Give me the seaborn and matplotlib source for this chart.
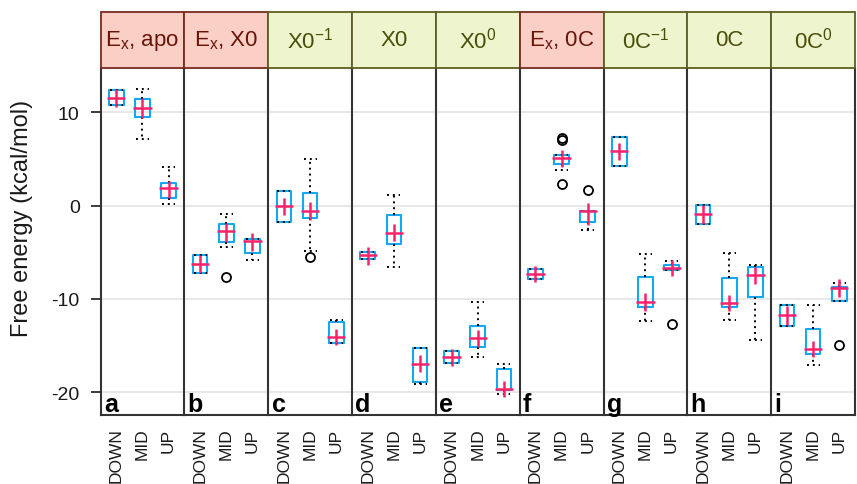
import numpy as np
import pandas as pd
import seaborn as sns
import matplotlib
matplotlib.use("Agg")
import matplotlib.pyplot as plt
from matplotlib.patches import Rectangle

# ---------------- data ----------------
panel_letters = ["a", "b", "c", "d", "e", "f", "g", "h", "i"]
strip_labels = [r"E$_{\mathrm{x}}$, apo", r"E$_{\mathrm{x}}$, X0", r"X0$^{-1}$", "X0",
                r"X0$^{0}$", r"E$_{\mathrm{x}}$, 0C", r"0C$^{-1}$", "0C", r"0C$^{0}$"]
strip_kind = ["E", "E", "S", "S", "S", "E", "S", "S", "S"]
categories = ["DOWN", "MID", "UP"]

# rows = panels a..i ; columns = DOWN, MID, UP
q1 = [[10.75, 9.50, 0.82], [-7.18, -3.93, -5.07], [-1.75, -1.32, -14.68],
      [-5.68, -4.10, -18.89], [-16.82, -15.18, -19.71], [-7.89, 4.46, -1.79],
      [4.21, -10.82, -6.93], [-1.93, -10.89, -9.79], [-12.86, -15.89, -10.25]]
median = [[11.57, 10.43, 1.89], [-6.21, -2.75, -3.82], [-0.07, -0.54, -14.04],
          [-5.32, -2.89, -16.93], [-16.18, -14.21, -19.60], [-7.32, 5.07, -0.61],
          [5.82, -10.32, -6.68], [-0.89, -10.46, -7.46], [-11.75, -15.32, -8.82]]
q3 = [[12.36, 11.46, 2.39], [-5.25, -2.00, -3.54], [1.54, 1.36, -12.46],
      [-4.96, -0.96, -15.25], [-15.60, -12.86, -17.46], [-6.75, 5.39, -0.54],
      [7.32, -7.68, -6.39], [0.11, -7.79, -6.61], [-10.64, -13.25, -8.68]]
whisker_lo = [[10.75, 7.18, 0.18], [-7.18, -4.43, -5.82], [-1.75, -4.82, -14.68],
              [-5.68, -6.57, -19.07], [-16.82, -16.25, -20.18], [-7.89, 3.86, -2.57],
              [4.21, -12.32, -6.93], [-1.93, -12.25, -14.36], [-12.86, -17.04, -10.25]]
whisker_hi = [[12.36, 12.54, 4.18], [-5.25, -0.86, -3.54], [1.54, 5.04, -12.30],
              [-4.96, 1.14, -15.25], [-15.60, -10.36, -16.93], [-6.75, 5.39, -0.54],
              [7.32, -5.18, -5.89], [0.11, -5.10, -6.36], [-10.64, -10.64, -8.29]]
cross_lo = [[10.60, 9.39, 0.82], [-7.21, -3.93, -4.82], [-0.96, -1.50, -14.96],
            [-6.32, -3.82, -17.82], [-17.14, -15.18, -20.50], [-8.21, 4.14, -2.04],
            [4.86, -11.25, -7.57], [-1.93, -11.32, -8.36], [-12.75, -16.25, -9.75]]
cross_hi = [[12.54, 11.50, 2.61], [-5.25, -1.86, -2.93], [0.82, 0.36, -13.20],
            [-4.43, -1.96, -15.96], [-15.36, -13.29, -18.75], [-6.50, 6.00, 0.29],
            [6.71, -9.39, -5.79], [0.11, -9.54, -6.54], [-10.79, -14.46, -7.86]]
# outliers: (panel index, category, value)
outlier_panel = [1, 2, 5, 5, 5, 5, 6, 8]
outlier_cat = ["MID", "MID", "MID", "MID", "MID", "UP", "UP", "UP"]
outlier_val = [-7.64, -5.46, 7.25, 7.04, 2.29, 1.71, -12.68, -14.89]

y_ticks = [-20, -10, 0, 10]

# ---------------- style ----------------
sns.set_style("white")
plt.rcParams["font.family"] = ["Liberation Sans", "DejaVu Sans"]
plt.rcParams["mathtext.fontset"] = "custom"
plt.rcParams["mathtext.rm"] = "Liberation Sans"
plt.rcParams["mathtext.it"] = "Liberation Sans:italic"
plt.rcParams["mathtext.bf"] = "Liberation Sans:bold"
plt.rcParams["axes.unicode_minus"] = False

BLUE = "#14A8F0"
PINK = "#F8236A"
STRIP_FILL = {"E": "#F9CFC6", "S": "#EEF4CD"}
STRIP_EDGE = {"E": "#7A2A1E", "S": "#5E5F22"}
STRIP_TEXT = {"E": "#6A1408", "S": "#4A4E0A"}

W, H = 857, 485
fig, axes = plt.subplots(1, 9, figsize=(W / 100, H / 100), dpi=100, sharey=True)
ax_top, ax_bot = 69, 416
fig.subplots_adjust(left=100.5 / W, right=855 / W, bottom=(H - ax_bot) / H,
                    top=(H - ax_top) / H, wspace=0)
strip_h = 56 / (ax_bot - ax_top)

dotted = (0, (1, 2))
for p, ax in enumerate(axes):
    rows = []
    for j, cat in enumerate(categories):
        vals = [whisker_lo[p][j], q1[p][j], q1[p][j], median[p][j],
                q3[p][j], q3[p][j], whisker_hi[p][j]]
        rows += [(cat, v) for v in vals]
    df = pd.DataFrame(rows, columns=["cat", "val"])
    sns.boxplot(data=df, x="cat", y="val", order=categories, ax=ax, fill=False,
                color=BLUE, width=0.56, whis=(0, 100), showfliers=False,
                linewidth=1.5, capwidths=0.5,
                boxprops=dict(color=BLUE, zorder=3),
                whiskerprops=dict(color="black", linestyle=dotted, linewidth=1.4, zorder=4),
                capprops=dict(color="black", linestyle=dotted, linewidth=1.4, zorder=4),
                medianprops=dict(linewidth=0))
    # pink crosses
    xs = np.arange(len(categories))
    ax.hlines(median[p], xs - 0.35, xs + 0.35, color=PINK, lw=1.8, zorder=6)
    ax.vlines(xs, cross_lo[p], cross_hi[p], color=PINK, lw=1.8, zorder=6)
    # outliers
    ox = [categories.index(c) for pi, c in zip(outlier_panel, outlier_cat) if pi == p]
    oy = [v for pi, v in zip(outlier_panel, outlier_val) if pi == p]
    if ox:
        ax.plot(ox, oy, ls="none", marker="o", ms=6.5, mfc="none", mec="black",
                mew=1.3, zorder=5)

    ax.set_xlim(-0.6, 2.6)
    ax.set_ylim(-22.43, 14.75)
    ax.set_xlabel("")
    ax.set_ylabel("")
    ax.set_xticks(xs, categories, rotation=90)
    ax.tick_params(axis="x", length=0, pad=9, labelsize=12.5, colors="#1a1a1a")
    ax.set_yticks(y_ticks)
    ax.grid(axis="y", color="#E6E6E6", lw=1.3)
    ax.grid(axis="x", visible=False)
    ax.set_axisbelow(True)
    for s in ["left", "right", "top", "bottom"]:
        ax.spines[s].set_color("#333333")
        ax.spines[s].set_linewidth(1.5)
    ax.spines["top"].set_visible(False)
    ax.spines["right"].set_visible(p == len(axes) - 1)
    if p == 0:
        ax.tick_params(axis="y", left=True, length=7, width=1.2, pad=8,
                       labelsize=14, colors="#1a1a1a")
    else:
        ax.tick_params(axis="y", left=False, labelleft=False)

    # panel letter
    ax.text(0.04, 0.012, panel_letters[p], transform=ax.transAxes, fontsize=18,
            fontweight="bold", va="baseline", ha="left", color="black", zorder=7)

    # strip header
    k = strip_kind[p]
    ax.add_patch(Rectangle((0, 1), 1, strip_h, transform=ax.transAxes, clip_on=False,
                           facecolor=STRIP_FILL[k], edgecolor=STRIP_EDGE[k], lw=1.3,
                           zorder=3))
    ax.text(0.5, 1 + strip_h / 2, strip_labels[p], transform=ax.transAxes,
            ha="center", va="center", fontsize=16, color=STRIP_TEXT[k], zorder=4)

fig.text(22 / W, 1 - 218 / H, "Free energy (kcal/mol)", rotation=90,
         ha="center", va="center", fontsize=17, color="#1a1a1a")

fig.savefig("out.png", dpi=100)
